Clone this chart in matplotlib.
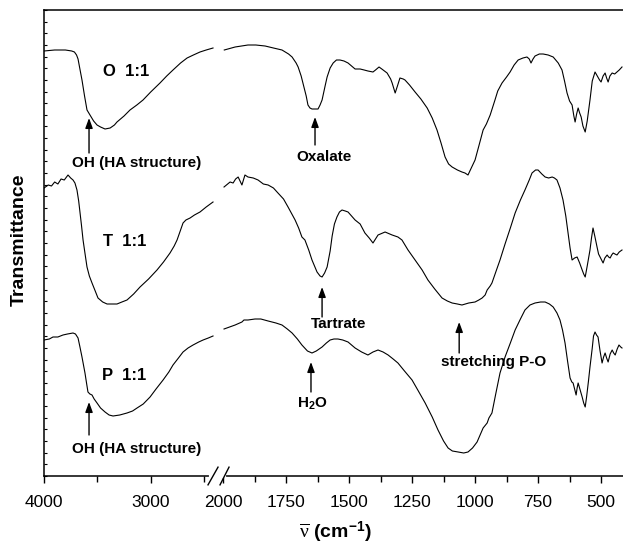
import numpy as np
import matplotlib
matplotlib.use('Agg')
import matplotlib.pyplot as plt
from matplotlib.ticker import FixedLocator, MultipleLocator, NullFormatter

plt.rcParams['font.family'] = ['Liberation Sans', 'DejaVu Sans']
plt.rcParams['mathtext.fontset'] = 'custom'
plt.rcParams['mathtext.rm'] = 'Liberation Serif'
plt.rcParams['mathtext.it'] = 'Liberation Serif:italic'
plt.rcParams['mathtext.bf'] = 'Liberation Sans:bold'

# FTIR spectra (wavenumber in cm-1, transmittance in a.u., offset)
o_wn_left = [4000, 3900, 3800, 3740, 3715, 3695, 3681, 3660, 3644, 3620, 3597, 3569, 3535, 3503,
             3470, 3428, 3380, 3340, 3316, 3250, 3194, 3130, 3072, 3000, 2913, 2850, 2791, 2720,
             2659, 2600, 2538, 2480, 2416]
o_left = [425, 426, 426, 425, 424, 421, 417, 405, 396, 380, 366, 361, 355, 351,
          349, 347, 348, 351, 354, 360, 366, 371, 376, 384, 393, 400, 406, 413,
          418, 421, 424, 426, 428]
o_wn_right = [1995, 1952, 1901, 1870, 1833, 1800, 1766, 1740, 1726, 1710, 1702, 1690, 1683, 1670,
              1663, 1655, 1647, 1630, 1623, 1615, 1607, 1595, 1587, 1575, 1563, 1550, 1536, 1520,
              1504, 1490, 1476, 1456, 1440, 1425, 1405, 1395, 1381, 1370, 1349, 1335, 1329, 1317,
              1308, 1298, 1285, 1278, 1260, 1238, 1215, 1190, 1170, 1151, 1135, 1119, 1105, 1091,
              1070, 1052, 1040, 1028, 1015, 1000, 985, 968, 955, 940, 921, 910, 893, 875, 861,
              845, 829, 810, 794, 785, 778, 770, 762, 745, 730, 710, 690, 670, 655, 645, 635,
              625, 615, 608, 603, 597, 591, 585, 579, 572, 563, 555, 544, 535, 524, 515, 506,
              500, 492, 484, 478, 472, 465, 456, 446, 437, 428, 417]
o_right = [426, 429, 431, 431, 430, 428, 426, 422, 419, 413, 409, 400, 393, 380,
           371, 368, 367, 367, 367, 371, 376, 390, 399, 408, 413, 416, 416, 415,
           413, 410, 407, 407, 406, 405, 404, 406, 409, 407, 403, 397, 393, 383,
           390, 398, 397, 396, 391, 384, 377, 368, 358, 346, 333, 319, 312, 309,
           306, 304, 303, 301, 308, 316, 330, 346, 352, 361, 376, 385, 393, 399, 404,
           411, 416, 418, 419, 417, 413, 417, 420, 422, 422, 421, 419, 413, 406, 395, 383,
           375, 371, 360, 354, 362, 368, 363, 359, 350, 344, 355, 376, 395, 404, 400, 396,
           394, 400, 403, 398, 394, 400, 403, 402, 404, 406, 409]

t_wn_left = [4000, 3960, 3930, 3900, 3870, 3840, 3810, 3775, 3750, 3728, 3710, 3691, 3675, 3662,
             3648, 3634, 3615, 3597, 3575, 3550, 3520, 3494, 3450, 3409, 3360, 3316, 3270, 3222,
             3160, 3100, 3020, 2941, 2880, 2819, 2780, 2753, 2720, 2697, 2670, 2631, 2590, 2538,
             2480, 2416]
t_left = [288, 291, 290, 294, 292, 297, 296, 301, 298, 296, 293, 286, 275, 263,
          250, 236, 222, 209, 200, 193, 185, 178, 174, 172, 172, 172, 174, 176,
          182, 189, 197, 206, 214, 223, 230, 236, 246, 253, 256, 258, 261, 264,
          269, 274]
t_wn_right = [1996, 1972, 1960, 1950, 1940, 1925, 1913, 1901, 1880, 1861, 1840, 1821, 1800, 1782,
              1760, 1742, 1714, 1700, 1687, 1675, 1660, 1647, 1627, 1615, 1607, 1597, 1587, 1575,
              1567, 1558, 1548, 1538, 1528, 1515, 1504, 1490, 1476, 1456, 1437, 1420, 1405, 1385,
              1357, 1329, 1306, 1290, 1266, 1238, 1210, 1187, 1160, 1131, 1110, 1091, 1070, 1052,
              1025, 1000, 985, 972, 960, 952, 940, 933, 915, 901, 881, 860, 841, 820, 802, 785,
              774, 760, 750, 735, 722, 708, 694, 685, 675, 663, 651, 640, 631, 623, 615, 605,
              595, 585, 575, 569, 563, 555, 544, 538, 532, 525, 516, 510, 504, 498, 492, 485,
              476, 470, 464, 458, 452, 445, 437, 428, 417]
t_right = [289, 294, 293, 297, 299, 291, 301, 299, 298, 296, 292, 291, 288, 283,
           277, 269, 256, 248, 239, 236, 226, 216, 204, 200, 199, 203, 209, 225,
           240, 252, 259, 264, 266, 265, 264, 260, 256, 252, 243, 238, 233, 241,
           244, 241, 239, 236, 226, 216, 206, 196, 187, 178, 175, 173, 172, 171,
           173, 174, 176, 178, 181, 186, 190, 193, 206, 216, 232, 248, 263, 276, 286, 296,
           303, 306, 306, 302, 299, 298, 299, 298, 296, 288, 276, 260, 243, 228, 216, 218,
           219, 213, 206, 202, 199, 210, 226, 238, 248, 240, 229, 222, 219, 216, 213, 218,
           221, 219, 218, 221, 223, 222, 221, 224, 226]

p_wn_left = [4000, 3950, 3916, 3870, 3822, 3780, 3728, 3705, 3681, 3665, 3644, 3630, 3616, 3600,
             3588, 3570, 3550, 3530, 3503, 3470, 3428, 3390, 3353, 3290, 3222, 3170, 3128, 3070,
             3006, 2950, 2884, 2830, 2791, 2740, 2697, 2650, 2603, 2550, 2509, 2460, 2416]
p_left = [136, 137, 139, 139, 141, 142, 143, 142, 138, 130, 119, 111, 103, 92,
          84, 82, 81, 77, 73, 68, 64, 61, 60, 61, 63, 65, 68, 72,
          79, 87, 96, 104, 111, 118, 124, 128, 131, 134, 136, 138, 140]
p_wn_right = [1996, 1952, 1925, 1917, 1901, 1873, 1850, 1821, 1790, 1766, 1745, 1726, 1705, 1687,
              1665, 1647, 1630, 1607, 1590, 1575, 1560, 1544, 1525, 1504, 1490, 1476, 1450, 1425,
              1405, 1385, 1365, 1345, 1325, 1306, 1280, 1250, 1225, 1198, 1170, 1147, 1125, 1107,
              1090, 1067, 1045, 1028, 1010, 992, 980, 968, 952, 945, 933, 918, 901, 881, 860,
              841, 820, 802, 782, 762, 740, 722, 705, 690, 675, 663, 653, 643, 633, 623, 616,
              611, 605, 599, 595, 591, 583, 575, 569, 563, 557, 550, 544, 535, 530, 524, 518,
              512, 504, 496, 490, 484, 478, 472, 464, 456, 450, 444, 436, 429, 422, 417]
p_right = [147, 151, 154, 156, 156, 157, 157, 155, 153, 151, 147, 143, 137, 131,
           125, 123, 125, 129, 133, 136, 137, 137, 136, 134, 131, 128, 124, 121,
           124, 126, 124, 121, 117, 113, 105, 96, 85, 73, 59, 46, 35, 28,
           25, 24, 23, 24, 28, 34, 41, 48, 53, 58, 63, 82, 103, 119, 133,
           146, 157, 166, 171, 173, 174, 174, 172, 169, 163, 156, 146, 133, 115, 98, 94,
           93, 87, 81, 88, 93, 86, 79, 73, 69, 80, 95, 109, 128, 140, 144, 141,
           139, 125, 113, 119, 123, 118, 114, 122, 126, 123, 121, 127, 131, 129, 128]

major_ticks = [4000, 3000, 2000, 1750, 1500, 1250, 1000, 750, 500]
minor_ticks = [3500, 2500, 1875, 1625, 1375, 1125, 875, 625]

# broken axis: 4000-2400 compressed, 2000-400 expanded
_xp = [0, 2000, 2400, 4000]
_up = [727.0, 223.0, 214.7, 44.0]


def fwd(x):
    return -np.interp(np.asarray(x, float), _xp, _up)


def inv(v):
    return np.interp(-np.asarray(v, float), _up[::-1], _xp[::-1])


fig = plt.figure(figsize=(6.23, 5.51), dpi=100)
ax = fig.add_axes([44 / 623, 75 / 551, 579 / 623, 466 / 551])
ax.set_xscale('function', functions=(fwd, inv))

for wn, tr in [(o_wn_left, o_left), (o_wn_right, o_right),
               (t_wn_left, t_left), (t_wn_right, t_right),
               (p_wn_left, p_left), (p_wn_right, p_right)]:
    ax.plot(wn, tr, color='black', lw=0.8)

ax.set_xlim(4000, 413)
ax.set_ylim(0, 466)
ax.spines['right'].set_visible(False)
for s in ['left', 'bottom', 'top']:
    ax.spines[s].set_linewidth(1.1)

ax.xaxis.set_major_locator(FixedLocator(major_ticks))
ax.xaxis.set_minor_locator(FixedLocator(minor_ticks))
ax.set_xticklabels([str(t) for t in major_ticks])
ax.xaxis.set_minor_formatter(NullFormatter())
ax.tick_params(axis='x', which='major', direction='out', length=5, width=1, labelsize=12.5, pad=9)
ax.tick_params(axis='x', which='minor', direction='out', length=4, width=1)
ax.yaxis.set_major_locator(MultipleLocator(466 / 40))
ax.yaxis.set_major_formatter(NullFormatter())
ax.tick_params(axis='y', which='major', direction='in', length=2.5, width=0.8)

# axis break marks
trans = ax.get_xaxis_transform()
ax.plot([inv(-211), inv(-224)], [0.0, 0.0], color='white', lw=3, transform=trans, clip_on=False, zorder=5)
for u0, u1 in [(208, 218), (220, 229)]:
    ax.plot([inv(-u0), inv(-u1)], [-0.019, 0.019], color='black', lw=1, transform=trans,
            clip_on=False, zorder=6)

# sample labels
for wn, y, s in [(3231, 405, 'O  1:1'), (3241, 235, 'T  1:1'), (3250, 100, 'P  1:1')]:
    ax.text(wn, y, s, fontsize=12, fontweight='bold', ha='center', va='center')

# band annotations: (arrow x, head y, tail y, text x, text y, label)
notes = [
    (3578, 358, 323, 3128, 313, 'OH (HA structure)'),
    (1635, 359, 331, 1599, 319, 'Oxalate'),
    (1607, 189, 159, 1540, 152, 'Tartrate'),
    (1063, 154, 123, 925, 114, 'stretching P-O'),
    (1651, 114, 84, 1647, 72, r'H$_\mathbf{2}$O'),
    (3578, 74, 41, 3128, 27, 'OH (HA structure)'),
]
for ax_x, hy, ty, tx, tyy, lab in notes:
    ax.annotate('', xy=(ax_x, hy), xytext=(ax_x, ty),
                arrowprops=dict(arrowstyle='-|>,head_length=0.6,head_width=0.22',
                                lw=1, color='black', shrinkA=0, shrinkB=0))
    ax.text(tx, tyy, lab, fontsize=11, fontweight='bold', ha='center', va='center')

fig.text(19 / 623, 1 - 240 / 551, 'Transmittance', rotation=90, fontsize=14,
         fontweight='bold', ha='center', va='center')
fig.text(335 / 623, 1 - 532 / 551, r'$\overline{\mathrm{\nu}}$ (cm$^\mathbf{-1}$)', fontsize=14,
         fontweight='bold', ha='center', va='center')

fig.savefig('out.png', dpi=100)
